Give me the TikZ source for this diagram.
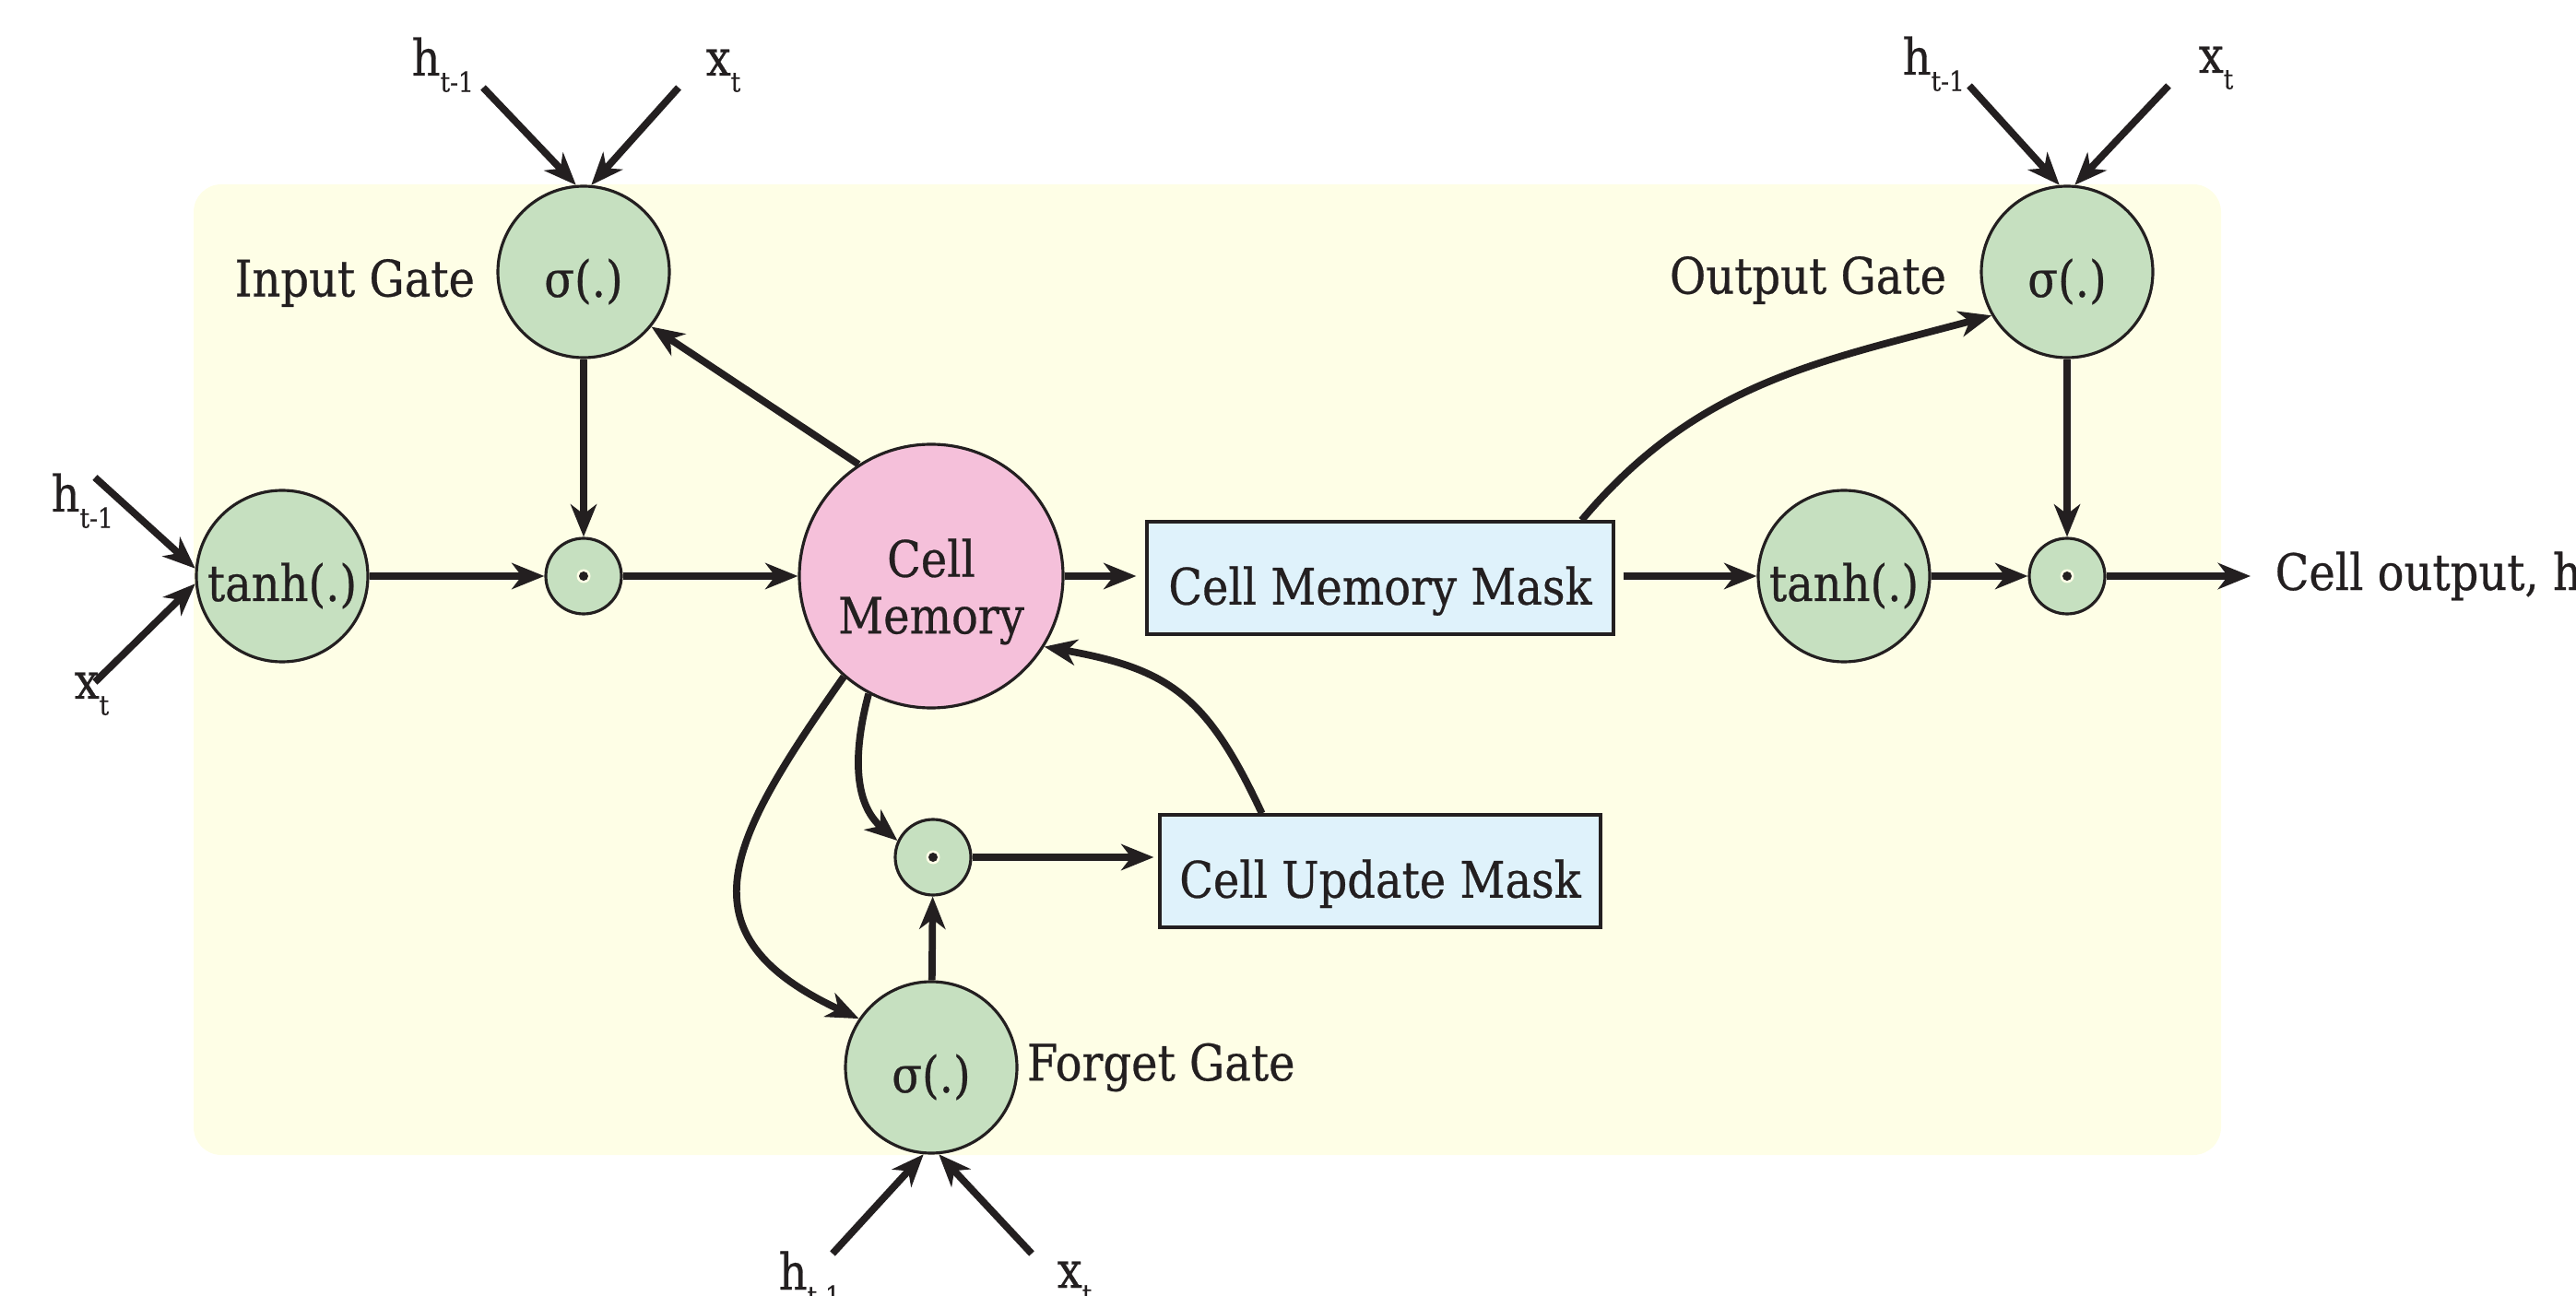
\documentclass[tikz,border=0pt]{standalone}
\usepackage{fontspec}
\setmainfont{DejaVu Serif}[FakeStretch=0.88, FakeBold=0.5]
\usepackage{xcolor}
\usetikzlibrary{positioning,arrows.meta,calc}

\definecolor{panelyellow}{RGB}{254,254,230}
\definecolor{gategreen}{RGB}{198,224,192}
\definecolor{cellpink}{RGB}{245,192,218}
\definecolor{maskblue}{RGB}{223,242,251}
\definecolor{inkline}{RGB}{35,31,32}

\newcommand{\hprev}{h\raisebox{-5pt}{\fontsize{8.5}{9}\selectfont t-1}}
\newcommand{\xnow}{x\raisebox{-5pt}{\fontsize{8.5}{9}\selectfont t}}

\tikzset{
  gate/.style={draw=inkline, circle, line width=0.9pt, fill=gategreen, minimum size=1.86cm, inner sep=0pt,
    text height=0.61cm, text depth=0.07cm},
  prod/.style={draw=inkline, circle, line width=0.9pt, fill=gategreen, minimum size=0.82cm, inner sep=0pt,
    path picture={\fill[panelyellow] (path picture bounding box.center) circle (0.075);
                  \fill[inkline] (path picture bounding box.center) circle (0.05);}},
  memory/.style={draw=inkline, circle, line width=0.9pt, fill=cellpink, minimum size=2.86cm, inner sep=0pt,
    align=center, font=\fontsize{15.5}{17.5}\selectfont, text height=1.37cm, text depth=0.125cm},
  mask/.style={draw=inkline, rectangle, line width=0.9pt, fill=maskblue, minimum height=1.22cm,
    text height=0.7cm, text depth=0.125cm},
  flow/.style={->, line width=2.2pt, draw=inkline},
  sym/.style={anchor=base west, inner sep=0pt}
}

\begin{document}
\begin{tikzpicture}[>={Stealth[length=10pt,width=8pt,inset=3pt]},
    every node/.append style={font=\fontsize{15.5}{18}\selectfont, text=inkline}]
    \useasboundingbox (0,0) rectangle (27.94,14.05);
    \fill[panelyellow, rounded corners=0.3cm] (2.10,1.52) rectangle (24.09,12.05);

    % gates and cell
    \node[gate] (inS) at (6.33,11.1) {σ(.)};
    \node[left=0.11cm of inS, yshift=-0.12cm] (inLbl) {Input Gate};
    \node[gate] (tanhL) at (3.06,7.8) {tanh(.)};
    \node[prod] (dotA) at (6.33,7.8) {};
    \node[memory] (mem) at (10.10,7.8) {Cell\\Memory};
    \node[mask, minimum width=5.06cm] (cmm) at (14.97,7.78) {Cell Memory Mask};
    \node[gate] (tanhR) at (20.00,7.8) {tanh(.)};
    \node[prod] (dotC) at (22.42,7.8) {};
    \node[gate] (outS) at (22.42,11.1) {σ(.)};
    \node[left=0.24cm of outS, yshift=-0.09cm] (outLbl) {Output Gate};
    \node[anchor=west, inner sep=0pt] (hout) at (24.67,7.8) {Cell output, h};
    \node[prod] (dotB) at (10.12,4.75) {};
    \node[mask, minimum width=4.78cm] (cum) at (14.97,4.6) {Cell Update Mask};
    \node[gate] (fS) at (10.10,2.47) {σ(.)};
    \node[right=-0.03cm of fS] (fLbl) {Forget Gate};

    % inputs h and x
    \node[sym] (inH) at (4.46,13.23) {\hprev};
    \node[sym] (inX) at (7.65,13.23) {\xnow};
    \node[sym] (outH) at (20.63,13.24) {\hprev};
    \node[sym] (outX) at (23.84,13.26) {\xnow};
    \node[sym] (lH) at (0.55,8.50) {\hprev};
    \node[sym] (lX) at (0.80,6.47) {\xnow};
    \node[sym] (fH) at (8.44,0.06) {\hprev};
    \node[sym] (fX) at (11.46,0.08) {\xnow};
    \coordinate (inHs) at (5.24,13.10);
    \coordinate (inXs) at (7.36,13.10);
    \coordinate (outHs) at (21.36,13.12);
    \coordinate (outXs) at (23.52,13.12);
    \coordinate (lHs) at (1.03,8.87);
    \coordinate (lXs) at (1.03,6.65);
    \coordinate (fHs) at (9.03,0.45);
    \coordinate (fXs) at (11.19,0.45);

    \draw[flow] (inHs) -- (inS.95);
    \draw[flow] (inXs) -- (inS.85);
    \draw[flow] (outHs) -- (outS.95);
    \draw[flow] (outXs) -- (outS.85);
    \draw[flow] (lHs) -- (tanhL.175);
    \draw[flow] (lXs) -- (tanhL.185);
    \draw[flow] (fHs) -- (fS.-95);
    \draw[flow] (fXs) -- (fS.-85);

    % main flow
    \draw[flow] (tanhL) -- (dotA);
    \draw[flow] (inS) -- (dotA);
    \draw[flow] (dotA) -- (mem);
    \draw[flow] (mem.123) -- (inS.-39);
    \draw[flow, shorten >=0.1cm] (mem) -- (mem -| cmm.west);
    \draw[flow, shorten <=0.09cm] (cmm.east |- tanhR) -- (tanhR);
    \draw[flow] ($(cmm.north east)!0.071!(cmm.north west)$) to[out=50, in=195] (outS.210);
    \draw[flow] (tanhR) -- (dotC);
    \draw[flow] (outS) -- (dotC);
    \draw[flow, shorten >=0.26cm] (dotC) -- (dotC -| hout.west);

    % forget path
    \draw[flow] (mem.-131) to[out=-125, in=155, looseness=1.5] (fS.146);
    \draw[flow] (mem.-118) to[out=-105, in=140] (dotB.155);
    \draw[flow] (fS) -- (dotB);
    \draw[flow, shorten >=0.05cm] (dotB) -- (dotB -| cum.west);
    \draw[flow] (cum.154) to[out=115, in=-10, looseness=1.2] (mem.-32);
\end{tikzpicture}
\end{document}
